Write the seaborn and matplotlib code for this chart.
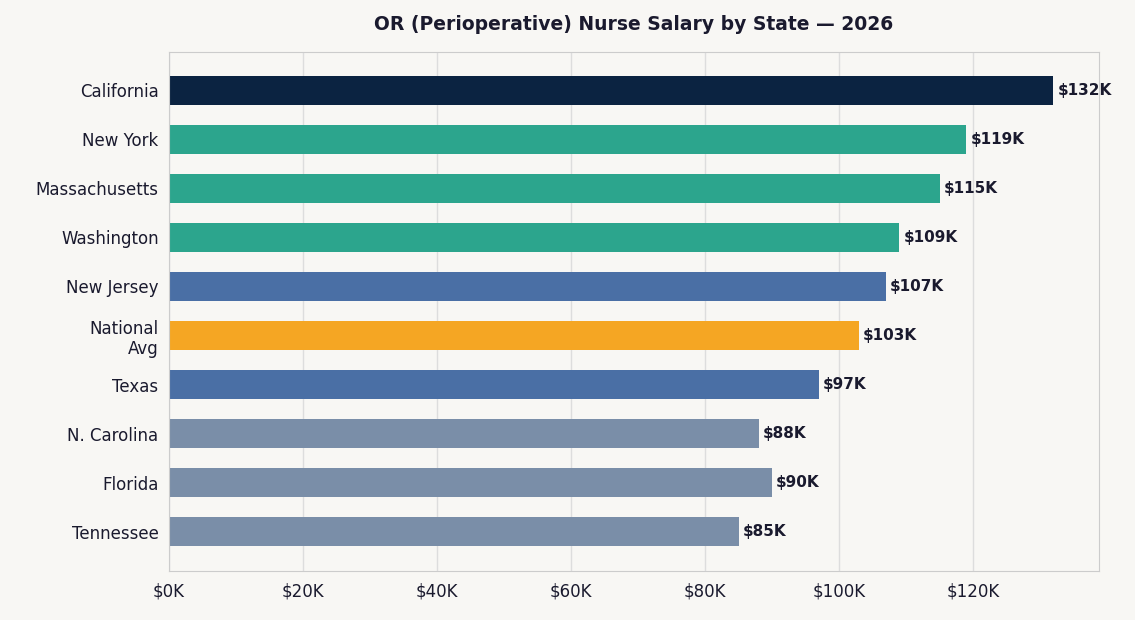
import matplotlib
matplotlib.use("Agg")
import matplotlib.pyplot as plt
import seaborn as sns
import pandas as pd

states = ["California", "New York", "Massachusetts", "Washington", "New Jersey",
          "National\nAvg", "Texas", "N. Carolina", "Florida", "Tennessee"]
salaries = [132, 119, 115, 109, 107, 103, 97, 88, 90, 85]
colors = ["#0b2341", "#2ca58d", "#2ca58d", "#2ca58d", "#4a6fa5",
          "#f5a623", "#4a6fa5", "#7a8ea8", "#7a8ea8", "#7a8ea8"]

sns.set_style("whitegrid")
plt.rcParams["font.family"] = ["DejaVu Sans"]

df = pd.DataFrame({"State": states, "Salary": salaries})

fig = plt.figure(figsize=(11.35, 6.2), dpi=100, facecolor="#f8f7f4")
ax = fig.add_axes([169 / 1135, 49 / 620, 930 / 1135, 519 / 620])
ax.set_facecolor("#f8f7f4")
sns.barplot(data=df, x="Salary", y="State", hue="State", palette=colors,
            legend=False, width=0.6, saturation=1, linewidth=0, ax=ax)

for i, v in enumerate(salaries):
    ax.text(v + 0.6, i, f"${v}K", va="center", ha="left",
            fontsize=11, fontweight="bold", color="#1a1a2e")

ax.set_xlim(0, 138.8)
ax.set_ylim(9.8, -0.78)
ax.set_xticks(range(0, 121, 20))
ax.set_xticklabels([f"${t}K" for t in range(0, 121, 20)])
ax.tick_params(axis="both", labelsize=12, colors="#1a1a2e", length=4)
ax.tick_params(axis="x", color="#1a1a2e", length=5)
ax.set_xlabel("")
ax.set_ylabel("")
ax.grid(axis="x", color="#dddddd", linewidth=1)
ax.grid(axis="y", visible=False)
for s in ax.spines.values():
    s.set_color("#cccccc")
ax.set_title("OR (Perioperative) Nurse Salary by State — 2026",
             fontsize=13.5, fontweight="bold", color="#1a1a2e", pad=16)

fig.savefig("out.png", dpi=100, facecolor=fig.get_facecolor())
